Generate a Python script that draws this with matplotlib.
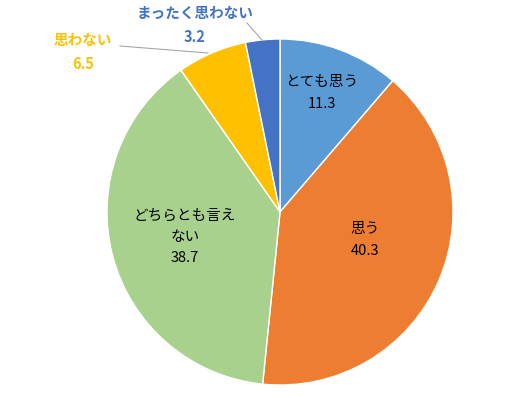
import matplotlib
matplotlib.use("Agg")
import matplotlib.pyplot as plt

plt.rcParams['font.family'] = ['Noto Sans CJK JP', 'DejaVu Sans']

# データ
categories = ["とても思う", "思う", "どちらとも言えない", "思わない", "まったく思わない"]
values = [11.3, 40.3, 38.7, 6.5, 3.2]
colors = ["#5B9BD5", "#ED7D31", "#A9D18E", "#FFC000", "#4472C4"]
label_texts = ["とても思う", "思う", "どちらとも言え\nない", "思わない", "まったく思わない"]

W, H = 512, 398
fig = plt.figure(figsize=(W / 100, H / 100), dpi=100)
ax = fig.add_axes([0, 0, 1, 1])

cx, cy, r = 280, H - 212, 173
ax.pie(values, colors=colors, startangle=90, counterclock=False,
       center=(cx, cy), radius=r,
       wedgeprops=dict(edgecolor="white", linewidth=1))

ax.set_xlim(0, W)
ax.set_ylim(0, H)
ax.set_aspect('equal')
ax.axis('off')

# ラベル位置 (画像座標)
inside_pos = {0: (322, 93), 1: (365, 240), 2: (185, 237)}
for i, (x, y) in inside_pos.items():
    ax.text(x, H - y, f"{label_texts[i]}\n{values[i]}", ha="center", va="center",
            fontsize=10.5, color="black", linespacing=1.65)

outside_pos = {3: (83, 52), 4: (195, 25)}
for i, (x, y) in outside_pos.items():
    ax.text(x, H - y, f"{label_texts[i]}\n{values[i]}", ha="center", va="center",
            fontsize=10.5, color=colors[i], fontweight="bold", linespacing=1.65)

# 引き出し線
ax.plot([247, 262], [H - 23, H - 40], color="#A6A6A6", lw=0.8)
ax.plot([120, 208], [H - 46, H - 53], color="#A6A6A6", lw=0.8)

fig.savefig("out.png", dpi=100)
